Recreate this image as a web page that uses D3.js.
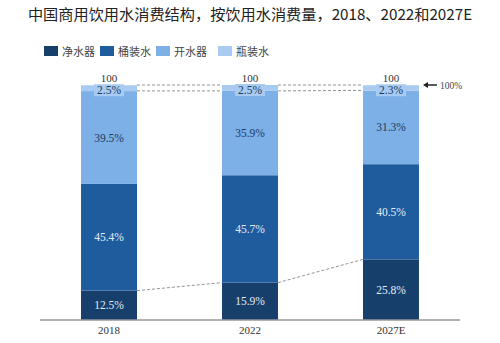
<!DOCTYPE html>
<html>
<head>
<meta charset="utf-8">
<script src="https://cdn.jsdelivr.net/npm/d3@7"></script>
<style>
  body { margin: 0; background: #fff; }
  text { font-family: "Liberation Serif", "Noto Sans CJK SC", serif; }
</style>
</head>
<body>
<svg width="500" height="343"></svg>
<script>
// data
var years = ["2018", "2022", "2027E"];
var series = ["净水器", "桶装水", "开水器", "瓶装水"];
var purifier = [12.5, 15.9, 25.8];
var barrelled = [45.4, 45.7, 40.5];
var boiler = [39.5, 35.9, 31.3];
var bottled = [2.5, 2.5, 2.3];
var totals = [100, 100, 100];

var colors = ["#173f6b", "#1f5c9e", "#7db0e6", "#a9cbf1"];
var labelColors = ["#e3ecf7", "#e3ecf7", "#1a3a63", "#1a3a63"];

var svg = d3.select("svg"),
    width = +svg.attr("width"),
    height = +svg.attr("height");

// table for stacking
var rows = years.map(function(y, i) {
  return {year: y, "净水器": purifier[i], "桶装水": barrelled[i], "开水器": boiler[i], "瓶装水": bottled[i]};
});
var stacked = d3.stack().keys(series)(rows);

var x = d3.scaleBand()
    .domain(years)
    .range([40, 460])
    .paddingInner(0.603)
    .paddingOuter(0.291);

var y = d3.scaleLinear()
    .domain([0, 100])
    .range([320, 85]);

// title
svg.append("text")
  .attr("x", 250)
  .attr("y", 20)
  .attr("text-anchor", "middle")
  .style("font-family", "'Noto Sans CJK SC', sans-serif")
  .style("font-size", "15.2px")
  .style("fill", "#222")
  .text("中国商用饮用水消费结构，按饮用水消费量，2018、2022和2027E");

// legend
var legendX = [44, 100, 156, 218];
var legend = svg.append("g").selectAll("g")
  .data(series)
  .enter()
  .append("g")
    .attr("transform", function(d, i) { return "translate(" + legendX[i] + ",46)"; });
legend.append("rect")
  .attr("width", 14)
  .attr("height", 10)
  .attr("fill", function(d, i) { return colors[i]; });
legend.append("text")
  .attr("x", 18)
  .attr("y", 9.5)
  .style("font-family", "'Noto Sans CJK SC', sans-serif")
  .style("font-size", "11px")
  .style("fill", "#444")
  .text(function(d) { return d; });

// dashed connector lines between bars
function connect(vals) {
  for (var i = 0; i < years.length - 1; i++) {
    svg.append("line")
      .attr("x1", x(years[i]) + x.bandwidth())
      .attr("x2", x(years[i + 1]))
      .attr("y1", y(vals[i]))
      .attr("y2", y(vals[i + 1]))
      .attr("stroke", "#777")
      .attr("stroke-width", 0.8)
      .attr("stroke-dasharray", "3,2");
  }
}
connect(totals);
connect(totals.map(function(t, i) { return t - bottled[i]; }));
connect(purifier);

// bars
var layers = svg.append("g").selectAll("g")
  .data(stacked)
  .enter()
  .append("g")
    .attr("fill", function(d, i) { return colors[i]; });

layers.selectAll("rect")
  .data(function(d) { return d; })
  .enter()
  .append("rect")
    .attr("x", function(d) { return x(d.data.year); })
    .attr("y", function(d) { return y(d[1]); })
    .attr("height", function(d) { return y(d[0]) - y(d[1]); })
    .attr("width", x.bandwidth());

// segment labels
stacked.forEach(function(layer, si) {
  layer.forEach(function(d) {
    var val = d[1] - d[0];
    var cx = x(d.data.year) + x.bandwidth() / 2;
    var cy = (y(d[0]) + y(d[1])) / 2;
    if (si === 3) {
      cy = y(d[1]) + 5;
      svg.append("rect")
        .attr("x", cx - 15)
        .attr("y", cy - 6)
        .attr("width", 30)
        .attr("height", 12)
        .attr("fill", colors[3]);
    }
    svg.append("text")
      .attr("x", cx)
      .attr("y", cy + 4)
      .attr("text-anchor", "middle")
      .style("font-size", "11.5px")
      .style("fill", labelColors[si])
      .text(d3.format(".1f")(val) + "%");
  });
});

// totals above bars
svg.append("g").selectAll("text")
  .data(totals)
  .enter()
  .append("text")
    .attr("x", function(d, i) { return x(years[i]) + x.bandwidth() / 2; })
    .attr("y", function(d) { return y(d) - 3; })
    .attr("text-anchor", "middle")
    .style("font-size", "11px")
    .style("fill", "#333")
    .text(function(d) { return d; });

// axis
var axis = svg.append("g")
  .attr("transform", "translate(0,320)")
  .call(d3.axisBottom(x).tickSize(0).tickPadding(6));
axis.select(".domain")
  .attr("d", "M40,0H460")
  .attr("stroke", "#999")
  .attr("stroke-width", 1.5);
axis.selectAll(".tick text")
  .style("font-family", "'Liberation Serif', serif")
  .style("font-size", "11px")
  .style("fill", "#333");

// 100% arrow
var last = years[years.length - 1];
var ax = x(last) + x.bandwidth() + 4;
svg.append("line")
  .attr("x1", ax + 14)
  .attr("x2", ax + 4)
  .attr("y1", y(100))
  .attr("y2", y(100))
  .attr("stroke", "#222")
  .attr("stroke-width", 1.5);
svg.append("path")
  .attr("d", "M" + ax + "," + y(100) + "l5,-3l0,6z")
  .attr("fill", "#222");
svg.append("text")
  .attr("x", ax + 17)
  .attr("y", y(100) + 3.5)
  .style("font-size", "9.5px")
  .style("fill", "#444")
  .text("100%");
</script>
</body>
</html>
